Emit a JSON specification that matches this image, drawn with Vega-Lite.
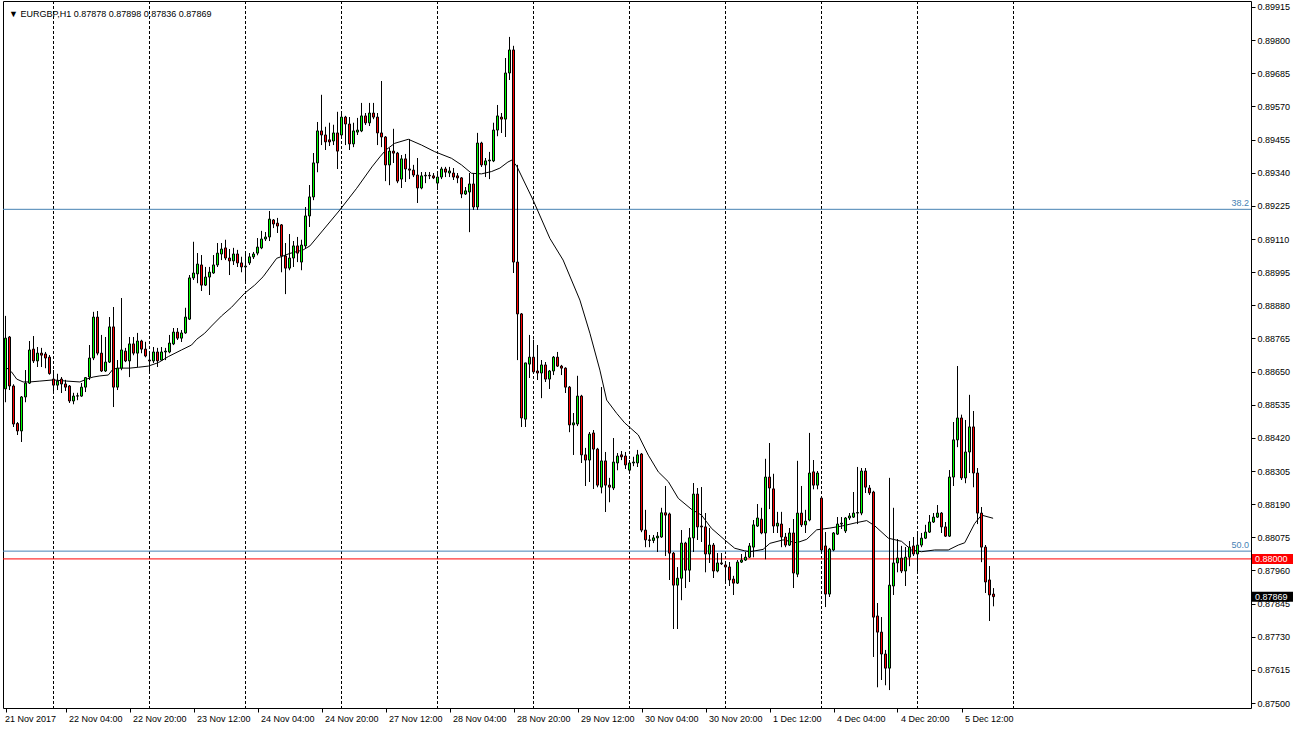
{
  "$schema": "https://vega.github.io/schema/vega-lite/v6.json",
  "width": 1248,
  "height": 707,
  "autosize": "none",
  "padding": {"left": 3, "top": 1, "right": 44, "bottom": 21},
  "background": "white",
  "config": {"view": {"stroke": "black", "strokeWidth": 1}, "axis": {"labelOverlap": false, "labelFlush": false, "labelBound": false}},
  "title": {"text": "▼  EURGBP,H1  0.87878 0.87898 0.87836 0.87869", "anchor": "start", "frame": "group", "offset": -25, "baseline": "alphabetic", "dx": 6, "font": "Liberation Sans", "fontSize": 9, "fontWeight": "normal", "color": "black"},
  "datasets": {
    "candles": [
      {"i":0,"o":0.88590,"h":0.88843,"l":0.88544,"c":0.88766},
      {"i":1,"o":0.88770,"h":0.88773,"l":0.88586,"c":0.88600},
      {"i":2,"o":0.88600,"h":0.88605,"l":0.88458,"c":0.88468},
      {"i":3,"o":0.88470,"h":0.88474,"l":0.88430,"c":0.88444},
      {"i":4,"o":0.88444,"h":0.88565,"l":0.88406,"c":0.88562},
      {"i":5,"o":0.88562,"h":0.88655,"l":0.88544,"c":0.88610},
      {"i":6,"o":0.88610,"h":0.88756,"l":0.88607,"c":0.88725},
      {"i":7,"o":0.88728,"h":0.88773,"l":0.88680,"c":0.88687},
      {"i":8,"o":0.88687,"h":0.88735,"l":0.88666,"c":0.88714},
      {"i":9,"o":0.88714,"h":0.88732,"l":0.88666,"c":0.88707},
      {"i":10,"o":0.88711,"h":0.88718,"l":0.88662,"c":0.88697},
      {"i":11,"o":0.88700,"h":0.88707,"l":0.88640,"c":0.88643},
      {"i":12,"o":0.88624,"h":0.88655,"l":0.88576,"c":0.88603},
      {"i":13,"o":0.88603,"h":0.88642,"l":0.88586,"c":0.88617},
      {"i":14,"o":0.88624,"h":0.88631,"l":0.88576,"c":0.88607},
      {"i":15,"o":0.88607,"h":0.88621,"l":0.88583,"c":0.88596},
      {"i":16,"o":0.88600,"h":0.88603,"l":0.88541,"c":0.88548},
      {"i":17,"o":0.88548,"h":0.88576,"l":0.88537,"c":0.88565},
      {"i":18,"o":0.88565,"h":0.88576,"l":0.88551,"c":0.88566},
      {"i":19,"o":0.88565,"h":0.88610,"l":0.88563,"c":0.88596},
      {"i":20,"o":0.88596,"h":0.88631,"l":0.88579,"c":0.88629},
      {"i":21,"o":0.88631,"h":0.88742,"l":0.88621,"c":0.88697},
      {"i":22,"o":0.88697,"h":0.88857,"l":0.88690,"c":0.88839},
      {"i":23,"o":0.88839,"h":0.88860,"l":0.88707,"c":0.88714},
      {"i":24,"o":0.88714,"h":0.88777,"l":0.88649,"c":0.88652},
      {"i":25,"o":0.88652,"h":0.88770,"l":0.88649,"c":0.88683},
      {"i":26,"o":0.88683,"h":0.88839,"l":0.88680,"c":0.88805},
      {"i":27,"o":0.88805,"h":0.88874,"l":0.88527,"c":0.88596},
      {"i":28,"o":0.88596,"h":0.88690,"l":0.88586,"c":0.88662},
      {"i":29,"o":0.88662,"h":0.88905,"l":0.88655,"c":0.88725},
      {"i":30,"o":0.88721,"h":0.88732,"l":0.88683,"c":0.88687},
      {"i":31,"o":0.88687,"h":0.88770,"l":0.88631,"c":0.88746},
      {"i":32,"o":0.88746,"h":0.88770,"l":0.88707,"c":0.88714},
      {"i":33,"o":0.88714,"h":0.88784,"l":0.88666,"c":0.88756},
      {"i":34,"o":0.88756,"h":0.88760,"l":0.88714,"c":0.88728},
      {"i":35,"o":0.88728,"h":0.88753,"l":0.88700,"c":0.88704},
      {"i":36,"o":0.88690,"h":0.88711,"l":0.88645,"c":0.88687},
      {"i":37,"o":0.88687,"h":0.88735,"l":0.88680,"c":0.88718},
      {"i":38,"o":0.88718,"h":0.88732,"l":0.88666,"c":0.88687},
      {"i":39,"o":0.88690,"h":0.88735,"l":0.88687,"c":0.88718},
      {"i":40,"o":0.88718,"h":0.88732,"l":0.88690,"c":0.88721},
      {"i":41,"o":0.88718,"h":0.88777,"l":0.88714,"c":0.88749},
      {"i":42,"o":0.88746,"h":0.88801,"l":0.88742,"c":0.88787},
      {"i":43,"o":0.88787,"h":0.88801,"l":0.88760,"c":0.88766},
      {"i":44,"o":0.88766,"h":0.88794,"l":0.88753,"c":0.88784},
      {"i":45,"o":0.88784,"h":0.88871,"l":0.88782,"c":0.88839},
      {"i":46,"o":0.88832,"h":0.88985,"l":0.88829,"c":0.88975},
      {"i":47,"o":0.88975,"h":0.89100,"l":0.88968,"c":0.88992},
      {"i":48,"o":0.88989,"h":0.89061,"l":0.88957,"c":0.89023},
      {"i":49,"o":0.89020,"h":0.89054,"l":0.88930,"c":0.88950},
      {"i":50,"o":0.88950,"h":0.89013,"l":0.88947,"c":0.88978},
      {"i":51,"o":0.88978,"h":0.89013,"l":0.88916,"c":0.88995},
      {"i":52,"o":0.88992,"h":0.89054,"l":0.88990,"c":0.89020},
      {"i":53,"o":0.89020,"h":0.89096,"l":0.89013,"c":0.89061},
      {"i":54,"o":0.89058,"h":0.89096,"l":0.89037,"c":0.89075},
      {"i":55,"o":0.89079,"h":0.89107,"l":0.89037,"c":0.89044},
      {"i":56,"o":0.89044,"h":0.89075,"l":0.88985,"c":0.89034},
      {"i":57,"o":0.89034,"h":0.89079,"l":0.89020,"c":0.89058},
      {"i":58,"o":0.89058,"h":0.89072,"l":0.89013,"c":0.89027},
      {"i":59,"o":0.89027,"h":0.89048,"l":0.88995,"c":0.89013},
      {"i":60,"o":0.89013,"h":0.89061,"l":0.88961,"c":0.89016},
      {"i":61,"o":0.89027,"h":0.89061,"l":0.89020,"c":0.89048},
      {"i":62,"o":0.89048,"h":0.89065,"l":0.89041,"c":0.89058},
      {"i":63,"o":0.89061,"h":0.89113,"l":0.89054,"c":0.89082},
      {"i":64,"o":0.89079,"h":0.89138,"l":0.89075,"c":0.89110},
      {"i":65,"o":0.89110,"h":0.89134,"l":0.89103,"c":0.89117},
      {"i":66,"o":0.89117,"h":0.89207,"l":0.89103,"c":0.89179},
      {"i":67,"o":0.89176,"h":0.89179,"l":0.89148,"c":0.89162},
      {"i":68,"o":0.89165,"h":0.89183,"l":0.89131,"c":0.89155},
      {"i":69,"o":0.89159,"h":0.89162,"l":0.88995,"c":0.89051},
      {"i":70,"o":0.89051,"h":0.89096,"l":0.88919,"c":0.89009},
      {"i":71,"o":0.89009,"h":0.89127,"l":0.89002,"c":0.89044},
      {"i":72,"o":0.89044,"h":0.89103,"l":0.89013,"c":0.89086},
      {"i":73,"o":0.89086,"h":0.89117,"l":0.89030,"c":0.89061},
      {"i":74,"o":0.89030,"h":0.89107,"l":0.89002,"c":0.89089},
      {"i":75,"o":0.89086,"h":0.89221,"l":0.89079,"c":0.89190},
      {"i":76,"o":0.89190,"h":0.89297,"l":0.89152,"c":0.89256},
      {"i":77,"o":0.89256,"h":0.89408,"l":0.89245,"c":0.89374},
      {"i":78,"o":0.89374,"h":0.89516,"l":0.89342,"c":0.89485},
      {"i":79,"o":0.89485,"h":0.89610,"l":0.89436,"c":0.89471},
      {"i":80,"o":0.89471,"h":0.89499,"l":0.89419,"c":0.89447},
      {"i":81,"o":0.89454,"h":0.89513,"l":0.89433,"c":0.89447},
      {"i":82,"o":0.89450,"h":0.89506,"l":0.89436,"c":0.89478},
      {"i":83,"o":0.89478,"h":0.89551,"l":0.89353,"c":0.89415},
      {"i":84,"o":0.89471,"h":0.89551,"l":0.89464,"c":0.89533},
      {"i":85,"o":0.89533,"h":0.89537,"l":0.89436,"c":0.89509},
      {"i":86,"o":0.89509,"h":0.89533,"l":0.89419,"c":0.89440},
      {"i":87,"o":0.89440,"h":0.89513,"l":0.89429,"c":0.89485},
      {"i":88,"o":0.89481,"h":0.89530,"l":0.89471,"c":0.89488},
      {"i":89,"o":0.89485,"h":0.89582,"l":0.89481,"c":0.89537},
      {"i":90,"o":0.89537,"h":0.89547,"l":0.89506,"c":0.89513},
      {"i":91,"o":0.89513,"h":0.89582,"l":0.89502,"c":0.89547},
      {"i":92,"o":0.89547,"h":0.89582,"l":0.89526,"c":0.89533},
      {"i":93,"o":0.89533,"h":0.89547,"l":0.89436,"c":0.89478},
      {"i":94,"o":0.89478,"h":0.89658,"l":0.89429,"c":0.89464},
      {"i":95,"o":0.89464,"h":0.89466,"l":0.89311,"c":0.89367},
      {"i":96,"o":0.89367,"h":0.89426,"l":0.89297,"c":0.89415},
      {"i":97,"o":0.89415,"h":0.89492,"l":0.89374,"c":0.89408},
      {"i":98,"o":0.89408,"h":0.89412,"l":0.89304,"c":0.89311},
      {"i":99,"o":0.89318,"h":0.89401,"l":0.89287,"c":0.89388},
      {"i":100,"o":0.89388,"h":0.89405,"l":0.89308,"c":0.89353},
      {"i":101,"o":0.89353,"h":0.89457,"l":0.89318,"c":0.89349},
      {"i":102,"o":0.89349,"h":0.89367,"l":0.89325,"c":0.89332},
      {"i":103,"o":0.89332,"h":0.89391,"l":0.89235,"c":0.89287},
      {"i":104,"o":0.89287,"h":0.89342,"l":0.89283,"c":0.89329},
      {"i":105,"o":0.89329,"h":0.89342,"l":0.89304,"c":0.89331},
      {"i":106,"o":0.89331,"h":0.89342,"l":0.89318,"c":0.89329},
      {"i":107,"o":0.89329,"h":0.89339,"l":0.89318,"c":0.89322},
      {"i":108,"o":0.89304,"h":0.89339,"l":0.89280,"c":0.89325},
      {"i":109,"o":0.89325,"h":0.89360,"l":0.89318,"c":0.89353},
      {"i":110,"o":0.89353,"h":0.89360,"l":0.89325,"c":0.89342},
      {"i":111,"o":0.89339,"h":0.89360,"l":0.89325,"c":0.89346},
      {"i":112,"o":0.89339,"h":0.89356,"l":0.89315,"c":0.89325},
      {"i":113,"o":0.89329,"h":0.89339,"l":0.89304,"c":0.89322},
      {"i":114,"o":0.89322,"h":0.89325,"l":0.89252,"c":0.89266},
      {"i":115,"o":0.89266,"h":0.89290,"l":0.89263,"c":0.89277},
      {"i":116,"o":0.89273,"h":0.89339,"l":0.89134,"c":0.89301},
      {"i":117,"o":0.89301,"h":0.89339,"l":0.89211,"c":0.89221},
      {"i":118,"o":0.89221,"h":0.89478,"l":0.89211,"c":0.89443},
      {"i":119,"o":0.89443,"h":0.89447,"l":0.89360,"c":0.89367},
      {"i":120,"o":0.89367,"h":0.89391,"l":0.89325,"c":0.89381},
      {"i":121,"o":0.89381,"h":0.89412,"l":0.89318,"c":0.89384},
      {"i":122,"o":0.89381,"h":0.89513,"l":0.89377,"c":0.89488},
      {"i":123,"o":0.89488,"h":0.89575,"l":0.89467,"c":0.89537},
      {"i":124,"o":0.89533,"h":0.89547,"l":0.89478,"c":0.89526},
      {"i":125,"o":0.89526,"h":0.89738,"l":0.89464,"c":0.89686},
      {"i":126,"o":0.89686,"h":0.89811,"l":0.89662,"c":0.89766},
      {"i":127,"o":0.89766,"h":0.89780,"l":0.88992,"c":0.89030},
      {"i":128,"o":0.89030,"h":0.89367,"l":0.88690,"c":0.88850},
      {"i":129,"o":0.88850,"h":0.88853,"l":0.88458,"c":0.88489},
      {"i":130,"o":0.88485,"h":0.88680,"l":0.88458,"c":0.88680},
      {"i":131,"o":0.88676,"h":0.88777,"l":0.88628,"c":0.88700},
      {"i":132,"o":0.88700,"h":0.88760,"l":0.88645,"c":0.88649},
      {"i":133,"o":0.88652,"h":0.88742,"l":0.88621,"c":0.88645},
      {"i":134,"o":0.88645,"h":0.88690,"l":0.88558,"c":0.88673},
      {"i":135,"o":0.88673,"h":0.88683,"l":0.88614,"c":0.88624},
      {"i":136,"o":0.88624,"h":0.88655,"l":0.88590,"c":0.88652},
      {"i":137,"o":0.88652,"h":0.88704,"l":0.88638,"c":0.88700},
      {"i":138,"o":0.88700,"h":0.88718,"l":0.88666,"c":0.88669},
      {"i":139,"o":0.88669,"h":0.88673,"l":0.88638,"c":0.88662},
      {"i":140,"o":0.88662,"h":0.88664,"l":0.88576,"c":0.88596},
      {"i":141,"o":0.88596,"h":0.88600,"l":0.88440,"c":0.88465},
      {"i":142,"o":0.88465,"h":0.88506,"l":0.88361,"c":0.88472},
      {"i":143,"o":0.88468,"h":0.88635,"l":0.88461,"c":0.88565},
      {"i":144,"o":0.88565,"h":0.88569,"l":0.88333,"c":0.88361},
      {"i":145,"o":0.88361,"h":0.88385,"l":0.88253,"c":0.88343},
      {"i":146,"o":0.88343,"h":0.88440,"l":0.88267,"c":0.88433},
      {"i":147,"o":0.88437,"h":0.88447,"l":0.88243,"c":0.88381},
      {"i":148,"o":0.88381,"h":0.88385,"l":0.88249,"c":0.88256},
      {"i":149,"o":0.88249,"h":0.88596,"l":0.88228,"c":0.88340},
      {"i":150,"o":0.88340,"h":0.88371,"l":0.88163,"c":0.88256},
      {"i":151,"o":0.88256,"h":0.88281,"l":0.88197,"c":0.88249},
      {"i":152,"o":0.88246,"h":0.88419,"l":0.88239,"c":0.88336},
      {"i":153,"o":0.88333,"h":0.88367,"l":0.88308,"c":0.88357},
      {"i":154,"o":0.88361,"h":0.88374,"l":0.88343,"c":0.88354},
      {"i":155,"o":0.88357,"h":0.88371,"l":0.88312,"c":0.88326},
      {"i":156,"o":0.88308,"h":0.88343,"l":0.88302,"c":0.88333},
      {"i":157,"o":0.88333,"h":0.88354,"l":0.88322,"c":0.88336},
      {"i":158,"o":0.88333,"h":0.88378,"l":0.88319,"c":0.88361},
      {"i":159,"o":0.88364,"h":0.88367,"l":0.88093,"c":0.88100},
      {"i":160,"o":0.88100,"h":0.88170,"l":0.88041,"c":0.88066},
      {"i":161,"o":0.88066,"h":0.88083,"l":0.88041,"c":0.88064},
      {"i":162,"o":0.88064,"h":0.88083,"l":0.88055,"c":0.88073},
      {"i":163,"o":0.88073,"h":0.88093,"l":0.88024,"c":0.88079},
      {"i":164,"o":0.88076,"h":0.88177,"l":0.88074,"c":0.88160},
      {"i":165,"o":0.88160,"h":0.88253,"l":0.88010,"c":0.88152},
      {"i":166,"o":0.88156,"h":0.88160,"l":0.87927,"c":0.88020},
      {"i":167,"o":0.88020,"h":0.88024,"l":0.87757,"c":0.87909},
      {"i":168,"o":0.87909,"h":0.87971,"l":0.87757,"c":0.87933},
      {"i":169,"o":0.87933,"h":0.88100,"l":0.87857,"c":0.88055},
      {"i":170,"o":0.88055,"h":0.88059,"l":0.87899,"c":0.87961},
      {"i":171,"o":0.87961,"h":0.88107,"l":0.87920,"c":0.88073},
      {"i":172,"o":0.88073,"h":0.88263,"l":0.88024,"c":0.88225},
      {"i":173,"o":0.88225,"h":0.88246,"l":0.88066,"c":0.88111},
      {"i":174,"o":0.88114,"h":0.88249,"l":0.88059,"c":0.88111},
      {"i":175,"o":0.88111,"h":0.88159,"l":0.87954,"c":0.88017},
      {"i":176,"o":0.88017,"h":0.88107,"l":0.87986,"c":0.88048},
      {"i":177,"o":0.88048,"h":0.88055,"l":0.87934,"c":0.87958},
      {"i":178,"o":0.87958,"h":0.88020,"l":0.87954,"c":0.87986},
      {"i":179,"o":0.87986,"h":0.88020,"l":0.87979,"c":0.87983},
      {"i":180,"o":0.87979,"h":0.87989,"l":0.87916,"c":0.87972},
      {"i":181,"o":0.87972,"h":0.87989,"l":0.87906,"c":0.87927},
      {"i":182,"o":0.87930,"h":0.87941,"l":0.87875,"c":0.87916},
      {"i":183,"o":0.87916,"h":0.87996,"l":0.87913,"c":0.87989},
      {"i":184,"o":0.87989,"h":0.88017,"l":0.87986,"c":0.87996},
      {"i":185,"o":0.87996,"h":0.88024,"l":0.87993,"c":0.88006},
      {"i":186,"o":0.88006,"h":0.88055,"l":0.88004,"c":0.88045},
      {"i":187,"o":0.88041,"h":0.88135,"l":0.88006,"c":0.88118},
      {"i":188,"o":0.88114,"h":0.88190,"l":0.88111,"c":0.88142},
      {"i":189,"o":0.88138,"h":0.88177,"l":0.88086,"c":0.88090},
      {"i":190,"o":0.88090,"h":0.88347,"l":0.87999,"c":0.88284},
      {"i":191,"o":0.88284,"h":0.88402,"l":0.88173,"c":0.88246},
      {"i":192,"o":0.88243,"h":0.88295,"l":0.88090,"c":0.88114},
      {"i":193,"o":0.88114,"h":0.88163,"l":0.88090,"c":0.88124},
      {"i":194,"o":0.88121,"h":0.88163,"l":0.88041,"c":0.88076},
      {"i":195,"o":0.88076,"h":0.88090,"l":0.88041,"c":0.88048},
      {"i":196,"o":0.88048,"h":0.88107,"l":0.88045,"c":0.88090},
      {"i":197,"o":0.88090,"h":0.88138,"l":0.87899,"c":0.87951},
      {"i":198,"o":0.87947,"h":0.88340,"l":0.87937,"c":0.88159},
      {"i":199,"o":0.88159,"h":0.88253,"l":0.88111,"c":0.88118},
      {"i":200,"o":0.88118,"h":0.88170,"l":0.88090,"c":0.88131},
      {"i":201,"o":0.88135,"h":0.88437,"l":0.88131,"c":0.88298},
      {"i":202,"o":0.88302,"h":0.88343,"l":0.88242,"c":0.88256},
      {"i":203,"o":0.88256,"h":0.88305,"l":0.88242,"c":0.88298},
      {"i":204,"o":0.88211,"h":0.88213,"l":0.88024,"c":0.88031},
      {"i":205,"o":0.88045,"h":0.88093,"l":0.87833,"c":0.87878},
      {"i":206,"o":0.87878,"h":0.88038,"l":0.87868,"c":0.88034},
      {"i":207,"o":0.88031,"h":0.88093,"l":0.88027,"c":0.88090},
      {"i":208,"o":0.88086,"h":0.88145,"l":0.88083,"c":0.88121},
      {"i":209,"o":0.88121,"h":0.88145,"l":0.88104,"c":0.88124},
      {"i":210,"o":0.88097,"h":0.88145,"l":0.88090,"c":0.88142},
      {"i":211,"o":0.88142,"h":0.88159,"l":0.88135,"c":0.88149},
      {"i":212,"o":0.88145,"h":0.88232,"l":0.88142,"c":0.88159},
      {"i":213,"o":0.88159,"h":0.88319,"l":0.88121,"c":0.88161},
      {"i":214,"o":0.88159,"h":0.88315,"l":0.88152,"c":0.88305},
      {"i":215,"o":0.88305,"h":0.88315,"l":0.88229,"c":0.88249},
      {"i":216,"o":0.88246,"h":0.88256,"l":0.88222,"c":0.88229},
      {"i":217,"o":0.88232,"h":0.88236,"l":0.87660,"c":0.87798},
      {"i":218,"o":0.87802,"h":0.87847,"l":0.87555,"c":0.87746},
      {"i":219,"o":0.87746,"h":0.87798,"l":0.87580,"c":0.87670},
      {"i":220,"o":0.87670,"h":0.87684,"l":0.87562,"c":0.87621},
      {"i":221,"o":0.87621,"h":0.88281,"l":0.87545,"c":0.87909},
      {"i":222,"o":0.87906,"h":0.88177,"l":0.87875,"c":0.87986},
      {"i":223,"o":0.87986,"h":0.88069,"l":0.87954,"c":0.88003},
      {"i":224,"o":0.88003,"h":0.88045,"l":0.87951,"c":0.87958},
      {"i":225,"o":0.87958,"h":0.88041,"l":0.87906,"c":0.88006},
      {"i":226,"o":0.88006,"h":0.88062,"l":0.87975,"c":0.88041},
      {"i":227,"o":0.88045,"h":0.88076,"l":0.88010,"c":0.88017},
      {"i":228,"o":0.88017,"h":0.88090,"l":0.87951,"c":0.88048},
      {"i":229,"o":0.88048,"h":0.88090,"l":0.88041,"c":0.88072},
      {"i":230,"o":0.88072,"h":0.88118,"l":0.88069,"c":0.88093},
      {"i":231,"o":0.88093,"h":0.88152,"l":0.88090,"c":0.88128},
      {"i":232,"o":0.88128,"h":0.88159,"l":0.88125,"c":0.88145},
      {"i":233,"o":0.88145,"h":0.88187,"l":0.88142,"c":0.88159},
      {"i":234,"o":0.88159,"h":0.88162,"l":0.88090,"c":0.88111},
      {"i":235,"o":0.88111,"h":0.88128,"l":0.88076,"c":0.88079},
      {"i":236,"o":0.88079,"h":0.88308,"l":0.88076,"c":0.88284},
      {"i":237,"o":0.88284,"h":0.88475,"l":0.88253,"c":0.88413},
      {"i":238,"o":0.88413,"h":0.88669,"l":0.88388,"c":0.88489},
      {"i":239,"o":0.88489,"h":0.88500,"l":0.88274,"c":0.88281},
      {"i":240,"o":0.88281,"h":0.88482,"l":0.88263,"c":0.88371},
      {"i":241,"o":0.88371,"h":0.88569,"l":0.88298,"c":0.88458},
      {"i":242,"o":0.88458,"h":0.88513,"l":0.88249,"c":0.88298},
      {"i":243,"o":0.88298,"h":0.88315,"l":0.88121,"c":0.88159},
      {"i":244,"o":0.88159,"h":0.88180,"l":0.87989,"c":0.88041},
      {"i":245,"o":0.88041,"h":0.88048,"l":0.87882,"c":0.87920},
      {"i":246,"o":0.87927,"h":0.87975,"l":0.87785,"c":0.87875},
      {"i":247,"o":0.87878,"h":0.87898,"l":0.87836,"c":0.87869}
    ],
    "ma": [
      {"i":0.0,"v":0.88666},{"i":1.5,"v":0.88649},{"i":2.8,"v":0.88624},{"i":4.4,"v":0.88614},{"i":6.1,"v":0.88614},
      {"i":8.6,"v":0.88617},{"i":11.9,"v":0.88621},{"i":15.3,"v":0.88617},{"i":18.6,"v":0.88614},{"i":20.3,"v":0.88624},
      {"i":21.9,"v":0.88631},{"i":23.6,"v":0.88635},{"i":25.7,"v":0.88638},{"i":26.9,"v":0.88659},{"i":28.6,"v":0.88662},
      {"i":31.1,"v":0.88662},{"i":33.2,"v":0.88665},{"i":35.7,"v":0.88669},{"i":38.2,"v":0.88681},{"i":40.7,"v":0.88702},
      {"i":44.0,"v":0.88725},{"i":46.5,"v":0.88742},{"i":47.8,"v":0.88762},{"i":49.8,"v":0.88783},{"i":51.5,"v":0.88808},
      {"i":54.0,"v":0.88843},{"i":56.5,"v":0.88873},{"i":59.8,"v":0.88922},{"i":62.3,"v":0.88950},{"i":64.4,"v":0.88979},
      {"i":67.8,"v":0.89043},{"i":71.1,"v":0.89060},{"i":74.4,"v":0.89072},{"i":76.1,"v":0.89086},{"i":79.4,"v":0.89141},
      {"i":83.6,"v":0.89211},{"i":87.8,"v":0.89286},{"i":91.6,"v":0.89360},{"i":93.6,"v":0.89395},{"i":95.1,"v":0.89419},
      {"i":97.3,"v":0.89442},{"i":100.7,"v":0.89456},{"i":104.0,"v":0.89436},{"i":107.3,"v":0.89413},{"i":111.5,"v":0.89390},
      {"i":114.0,"v":0.89367},{"i":116.5,"v":0.89338},{"i":119.0,"v":0.89336},{"i":121.5,"v":0.89344},{"i":123.6,"v":0.89356},
      {"i":125.6,"v":0.89377},{"i":126.6,"v":0.89384},{"i":127.8,"v":0.89363},{"i":131.9,"v":0.89245},{"i":136.1,"v":0.89112},
      {"i":139.4,"v":0.89037},{"i":143.6,"v":0.88898},{"i":146.1,"v":0.88783},{"i":148.6,"v":0.88655},{"i":150.3,"v":0.88551},
      {"i":152.8,"v":0.88505},{"i":154.8,"v":0.88472},{"i":158.2,"v":0.88430},{"i":160.7,"v":0.88360},{"i":163.2,"v":0.88302},
      {"i":165.7,"v":0.88268},{"i":168.2,"v":0.88210},{"i":171.5,"v":0.88172},{"i":174.0,"v":0.88152},{"i":176.5,"v":0.88106},
      {"i":179.8,"v":0.88066},{"i":182.3,"v":0.88037},{"i":184.8,"v":0.88028},{"i":186.1,"v":0.88025},{"i":189.4,"v":0.88033},
      {"i":191.1,"v":0.88054},{"i":194.4,"v":0.88066},{"i":197.8,"v":0.88056},{"i":200.3,"v":0.88068},{"i":202.8,"v":0.88101},
      {"i":206.1,"v":0.88107},{"i":209.4,"v":0.88115},{"i":212.8,"v":0.88126},{"i":215.3,"v":0.88133},{"i":217.3,"v":0.88115},
      {"i":220.7,"v":0.88072},{"i":224.0,"v":0.88061},{"i":226.5,"v":0.88031},{"i":229.0,"v":0.88025},{"i":232.3,"v":0.88031},
      {"i":235.7,"v":0.88031},{"i":238.2,"v":0.88048},{"i":239.8,"v":0.88056},{"i":242.3,"v":0.88123},{"i":244.0,"v":0.88152},
      {"i":246.9,"v":0.88141}
    ],
    "grid": [{"i":12},{"i":36},{"i":60},{"i":84},{"i":108},{"i":132},{"i":156},{"i":180},{"i":204},{"i":228},{"i":252}],
    "fib": [{"p":0.89213,"t":"38.2"},{"p":0.88027,"t":"50.0"}],
    "level": [{"p":0.88}],
    "tags": [{"p":0.88,"t":"0.88000","bg":"#ff0000"},{"p":0.87869,"t":"0.87869","bg":"#000000"}]
  },
  "layer": [
    {
      "data": {"name": "candles"},
      "mark": {"type": "rule", "color": "black", "strokeWidth": 1},
      "encoding": {
        "x": {"field": "i", "type": "quantitative", "title": null, "scale": {"domain": [-0.625, 311.375], "nice": false, "zero": false, "padding": 0},
          "axis": {"orient": "bottom", "title": null, "grid": false, "domain": false, "ticks": true, "tickSize": 4, "tickColor": "black", "tickCount": 40,
            "values": [0, 15, 31, 47, 63, 79, 95, 111, 127, 143, 159, 175, 191, 207, 223, 239],
            "labelExpr": "['21 Nov 2017','22 Nov 04:00','22 Nov 20:00','23 Nov 12:00','24 Nov 04:00','24 Nov 20:00','27 Nov 12:00','28 Nov 04:00','28 Nov 20:00','29 Nov 12:00','30 Nov 04:00','30 Nov 20:00','1 Dec 12:00','4 Dec 04:00','4 Dec 20:00','5 Dec 12:00'][datum.value == 0 ? 0 : (datum.value + 1) / 16]",
            "labelAlign": "left", "labelOffset": {"condition": {"test": "datum.value == 0", "value": -1}, "value": 3}, "labelPadding": 2, "labelFlush": false, "labelOverlap": false,
            "labelFont": "Liberation Sans", "labelFontSize": 9, "labelColor": "black"}},
        "y": {"field": "l", "type": "quantitative", "title": null, "scale": {"domain": [0.874827, 0.899358], "nice": false, "zero": false},
          "axis": {"orient": "right", "title": null, "grid": false, "domain": false, "ticks": true, "tickSize": 4, "tickColor": "black", "tickCount": 40,
            "values": [0.875, 0.87615, 0.8773, 0.87845, 0.8796, 0.88075, 0.8819, 0.88305, 0.8842, 0.88535, 0.8865, 0.88765, 0.8888, 0.88995, 0.8911, 0.89225, 0.8934, 0.89455, 0.8957, 0.89685, 0.898, 0.89915],
            "format": ".5f", "labelPadding": 2, "labelFlush": false, "labelOverlap": false,
            "labelFont": "Liberation Sans", "labelFontSize": 9, "labelColor": "black"}},
        "y2": {"field": "h"}
      }
    },
    {
      "data": {"name": "grid"},
      "mark": {"type": "rule", "color": "black", "strokeWidth": 1, "strokeDash": [3, 2]},
      "encoding": {
        "x": {"field": "i", "type": "quantitative", "title": null, "scale": {"domain": [-0.625, 311.375], "nice": false, "zero": false, "padding": 0}}
      }
    },
    {
      "data": {"name": "fib"},
      "mark": {"type": "rule", "color": "#4682b4", "strokeWidth": 1},
      "encoding": {
        "y": {"field": "p", "type": "quantitative", "title": null, "scale": {"domain": [0.874827, 0.899358], "nice": false, "zero": false}}
      }
    },
    {
      "data": {"name": "level"},
      "mark": {"type": "rule", "color": "#ff0000", "strokeWidth": 1},
      "encoding": {
        "y": {"field": "p", "type": "quantitative", "title": null, "scale": {"domain": [0.874827, 0.899358], "nice": false, "zero": false}}
      }
    },
    {
      "data": {"name": "ma"},
      "mark": {"type": "line", "color": "black", "strokeWidth": 1},
      "encoding": {
        "x": {"field": "i", "type": "quantitative", "title": null, "scale": {"domain": [-0.625, 311.375], "nice": false, "zero": false, "padding": 0}},
        "y": {"field": "v", "type": "quantitative", "title": null, "scale": {"domain": [0.874827, 0.899358], "nice": false, "zero": false}}
      }
    },
    {
      "data": {"name": "candles"},
      "mark": {"type": "rule", "color": "black", "strokeWidth": 1},
      "encoding": {
        "x": {"field": "i", "type": "quantitative", "title": null, "scale": {"domain": [-0.625, 311.375], "nice": false, "zero": false, "padding": 0}},
        "y": {"field": "l", "type": "quantitative", "title": null, "scale": {"domain": [0.874827, 0.899358], "nice": false, "zero": false}},
        "y2": {"field": "h"}
      }
    },
    {
      "data": {"name": "candles"},
      "mark": {"type": "bar", "size": 2, "stroke": "black", "strokeWidth": 1},
      "encoding": {
        "x": {"field": "i", "type": "quantitative", "title": null, "scale": {"domain": [-0.625, 311.375], "nice": false, "zero": false, "padding": 0}},
        "y": {"field": "o", "type": "quantitative", "title": null, "scale": {"domain": [0.874827, 0.899358], "nice": false, "zero": false}},
        "y2": {"field": "c"},
        "fill": {"condition": {"test": "datum.c >= datum.o", "value": "#00ff00"}, "value": "#ff0000"}
      }
    },
    {
      "data": {"name": "fib"},
      "mark": {"type": "text", "align": "right", "baseline": "bottom", "dx": -2, "dy": -1, "font": "Liberation Sans", "fontSize": 9, "color": "#4682b4"},
      "encoding": {
        "x": {"value": "width"},
        "y": {"field": "p", "type": "quantitative", "title": null, "scale": {"domain": [0.874827, 0.899358], "nice": false, "zero": false}},
        "text": {"field": "t"}
      }
    },
    {
      "data": {"name": "tags"},
      "mark": {"type": "point", "shape": "M0.2,-1H8.4V1H0.2Z", "size": 100, "filled": true, "opacity": 1, "strokeWidth": 0},
      "encoding": {
        "x": {"value": "width"},
        "y": {"field": "p", "type": "quantitative", "title": null, "scale": {"domain": [0.874827, 0.899358], "nice": false, "zero": false}},
        "fill": {"field": "bg", "type": "nominal", "scale": null, "legend": null}
      }
    },
    {
      "data": {"name": "tags"},
      "mark": {"type": "text", "align": "left", "baseline": "middle", "dx": 4, "font": "Liberation Sans", "fontSize": 9, "color": "white"},
      "encoding": {
        "x": {"value": "width"},
        "y": {"field": "p", "type": "quantitative", "title": null, "scale": {"domain": [0.874827, 0.899358], "nice": false, "zero": false}},
        "text": {"field": "t"}
      }
    }
  ]
}
